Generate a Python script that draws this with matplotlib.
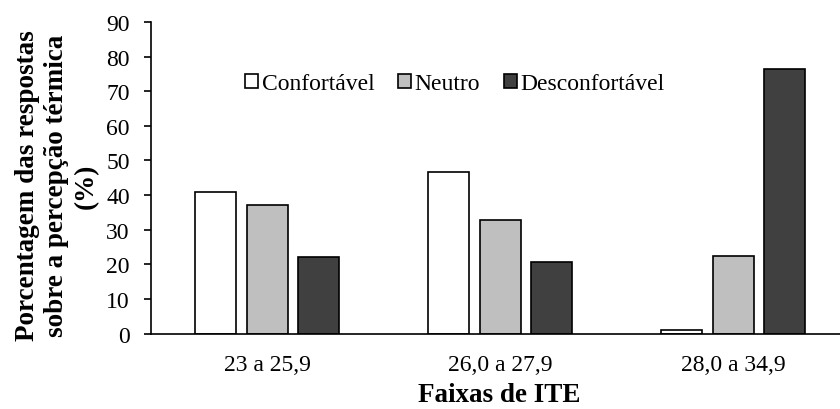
import matplotlib
matplotlib.use("Agg")
import matplotlib.pyplot as plt
import numpy as np

plt.rcParams['font.family'] = ['Liberation Serif', 'DejaVu Serif']

categories = ["23 a 25,9", "26,0 a 27,9", "28,0 a 34,9"]
series_names = ["Confortável", "Neutro", "Desconfortável"]
confortavel = [40.8, 46.6, 1.0]
neutro = [37.2, 32.9, 22.4]
desconfortavel = [22.0, 20.6, 76.4]
yticks = [0, 10, 20, 30, 40, 50, 60, 70, 80, 90]

colors = ["#FFFFFF", "#BFBFBF", "#404040"]
series = [confortavel, neutro, desconfortavel]

fig = plt.figure(figsize=(8.4, 4.1), dpi=100)
ax = fig.add_axes([0.1794, 0.1841, 0.8321, 0.7598])

x = np.arange(len(categories))
width = 0.176
offsets = [-0.221, 0.0, 0.221]
for vals, name, col, off in zip(series, series_names, colors, offsets):
    ax.bar(x + off, vals, width, color=col, edgecolor="black", linewidth=1.2,
           label=name, zorder=2)

ax.set_xlim(-0.5, 2.5)
ax.set_ylim(0, 90)
ax.set_yticks(yticks)
ax.set_xticks(x)
ax.set_xticklabels(categories)

for s in ["top", "right"]:
    ax.spines[s].set_visible(False)
for s in ["left", "bottom"]:
    ax.spines[s].set_linewidth(1.2)

ax.tick_params(axis="y", direction="out", length=5, width=1.2, labelsize=17, pad=10)
ax.tick_params(axis="x", length=0, labelsize=17, pad=15)

fig.text(57 / 840, 1 - 186 / 410,
         "Porcentagem das respostas\nsobre a percepção térmica\n(%)",
         rotation=90, ha="center", va="center", multialignment="center",
         fontsize=19.5, fontweight="bold", linespacing=1.25)
fig.text(499 / 840, 1 - 402 / 410, "Faixas de ITE", ha="center", va="baseline",
         fontsize=19.5, fontweight="bold")

leg = ax.legend(loc="center", bbox_to_anchor=(455 / 840, 1 - 85 / 410),
                bbox_transform=fig.transFigure, ncol=3, frameon=False,
                fontsize=17, handlelength=0.55, handleheight=0.55,
                handletextpad=0.15, columnspacing=1.0, borderpad=0)

fig.savefig("out.png", dpi=100)
